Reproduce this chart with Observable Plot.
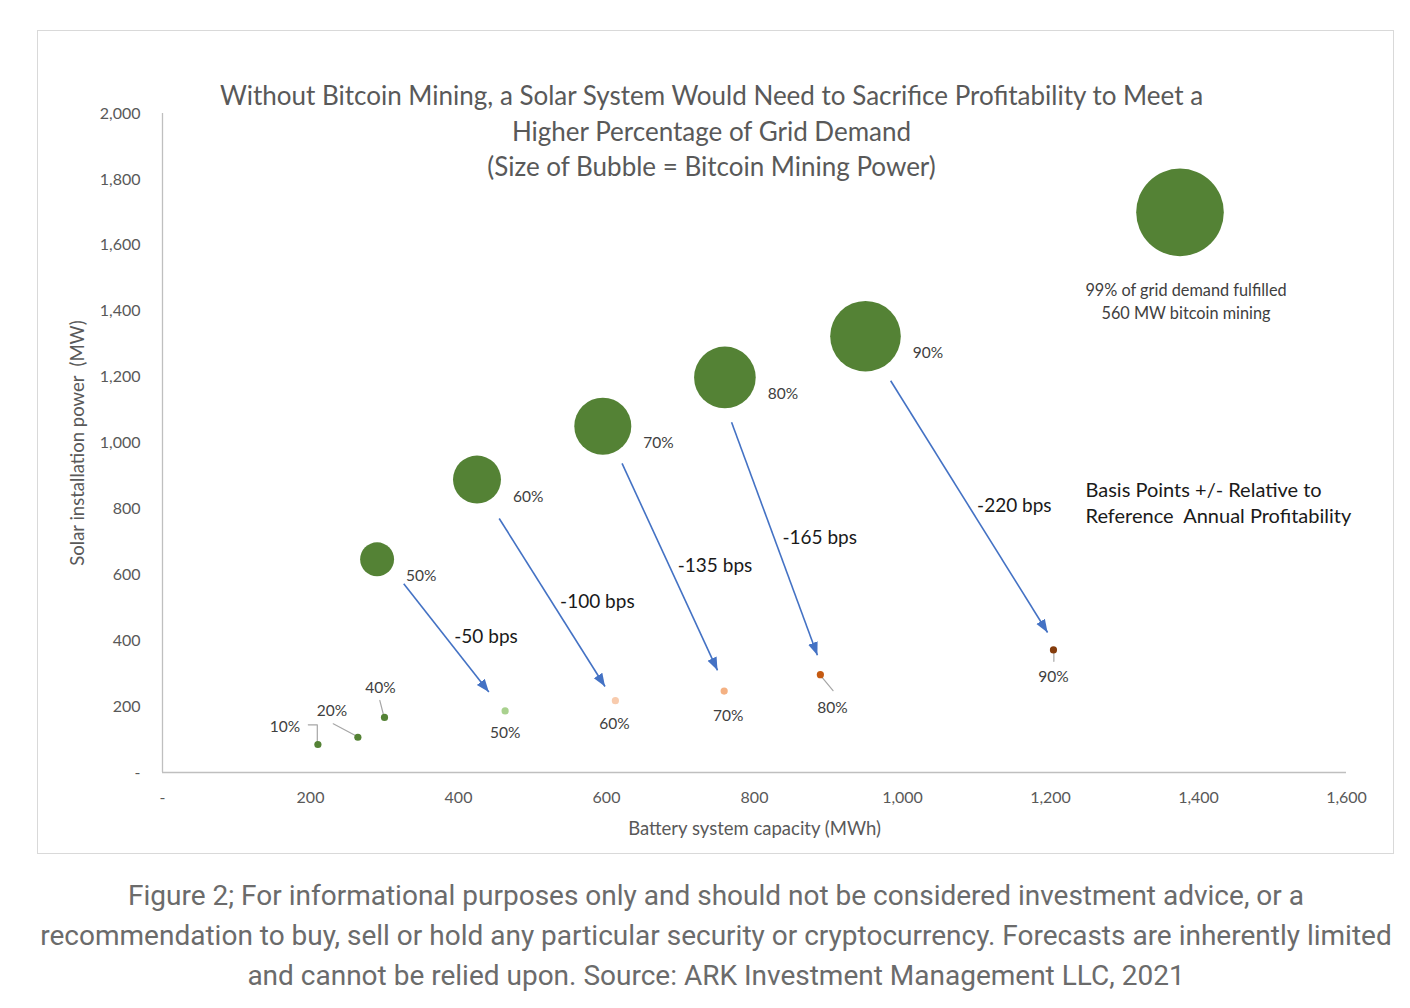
<!DOCTYPE html>
<html><head><meta charset="utf-8">
<script src="https://cdn.jsdelivr.net/npm/d3@7"></script>
<script src="https://cdn.jsdelivr.net/npm/@observablehq/plot@0.6"></script>
<style>
body{margin:0;background:#fff;width:1410px;height:1008px;position:relative;overflow:hidden;font-family:Lato,sans-serif}
#frame{position:absolute;left:38px;top:31px;width:1355px;height:822px;outline:1.5px solid #d9d9d9}
#chart svg{display:block}
#title{position:absolute;left:-4px;top:47px;width:100%;text-align:center;font-family:Lato,sans-serif;font-size:26px;line-height:35.5px;color:#595959;pointer-events:none}
#caption{position:absolute;left:20px;top:876px;width:1392px;text-align:center;font-family:Roboto,sans-serif;font-size:28px;line-height:40px;color:#6b6b6b;white-space:nowrap}
</style></head>
<body>
<div id="frame">
  <div id="chart"></div>
  <div id="title">Without Bitcoin Mining, a Solar System Would Need to Sacrifice Profitability to Meet a<br>Higher Percentage of Grid Demand<br>(Size of Bubble = Bitcoin Mining Power)</div>
</div>
<div id="caption">Figure 2; For informational purposes only and should not be considered investment advice, or a<br>recommendation to buy, sell or hold any particular security or cryptocurrency. Forecasts are inherently limited<br>and cannot be relied upon. Source: ARK Investment Management LLC, 2021</div>
<script>
// ---------- data ----------
// With bitcoin mining: bubbles (size = bitcoin mining power, MW)
const bubbleLabels   = ["50%", "60%", "70%", "80%", "90%", "99%"];
const bubbleBattery  = [290, 425, 595, 760, 950, 1375];     // MWh
const bubbleSolar    = [647, 889, 1051, 1199, 1324, 1700];  // MW
const bubbleMiningMW = [84, 168, 237, 277, 364, 560];

// With bitcoin mining, low grid-demand shares (tiny markers)
const lowLabels  = ["10%", "20%", "40%"];
const lowBattery = [210, 264, 300];
const lowSolar   = [85, 107, 167];

// Without bitcoin mining
const noMiningLabels  = ["50%", "60%", "70%", "80%", "90%"];
const noMiningBattery = [463, 612, 759, 889, 1204];
const noMiningSolar   = [187, 218, 247, 297, 372];

// Arrows: change in profitability (bps) from mining case to no-mining case
const bpsChange        = [-50, -100, -135, -165, -220];
const arrowFromBattery = [326, 455, 621, 769, 984];
const arrowFromSolar   = [573, 771, 938, 1063, 1189];
const arrowToBattery   = [441, 598, 750, 885, 1196];
const arrowToSolar     = [244, 261, 310, 356, 425];

const xTicks = [0, 200, 400, 600, 800, 1000, 1200, 1400, 1600];
const yTicks = [0, 200, 400, 600, 800, 1000, 1200, 1400, 1600, 1800, 2000];

const xLabel = "Battery system capacity (MWh)";
const yLabel = "Solar installation power  (MW)";
const noteText = "Basis Points +/- Relative to\nReference  Annual Profitability";

// ---------- styles ----------
const green = "#548235";
const noMiningColors = ["#A9D18E", "#F8CBAD", "#F4B183", "#C55A11", "#843C0C"];
const W = 1355, H = 822, ML = 124, MR = 47, MT = 82, MB = 81;
const kx = (W - ML - MR) / 1600, ky = (H - MT - MB) / 2000; // px per unit
const rMax = 43.8;
const rpx = v => Math.sqrt(v / 560) * rMax;
const lowLabelOffset = {"10%": [-33, -17], "20%": [-26, -26], "40%": [-4, -29]};
const noMiningLabelOffset = {"50%": [0, 22], "60%": [-1, 23], "70%": [4, 25], "80%": [12, 33], "90%": [0, 27]};
const leaderShapes = {
  "low 10%": [[-9.6, -19.7], [-0.6, -19.7], [-0.6, -2.3]],
  "low 20%": [[-24.6, -13.4], [-2, -1.5]],
  "low 40%": [[-4.7, -17], [-1.3, -3.7]],
  "none 80%": [[1.7, 2.7], [12.7, 16]],
  "none 90%": [[0.4, 2.4], [0.4, 11.4]]
};

// ---------- tables ----------
const bubbles = bubbleLabels.map((label, i) => ({label, x: bubbleBattery[i], y: bubbleSolar[i], mw: bubbleMiningMW[i]}));
const lowPts = lowLabels.map((label, i) => ({label, x: lowBattery[i], y: lowSolar[i], kind: "low"}));
const nonePts = noMiningLabels.map((label, i) => ({label, x: noMiningBattery[i], y: noMiningSolar[i], kind: "none", color: noMiningColors[i]}));
const arrows = bpsChange.map((bps, i) => ({bps, x1: arrowFromBattery[i], y1: arrowFromSolar[i], x2: arrowToBattery[i], y2: arrowToSolar[i]}));

const leaders = [];
for (const p of [...lowPts, ...nonePts]) {
  const shape = leaderShapes[`${p.kind} ${p.label}`];
  if (!shape) continue;
  shape.forEach(([dx, dy], j) => leaders.push({id: `${p.kind} ${p.label}`, j, x: p.x + dx / kx, y: p.y - dy / ky}));
}

const filledHead = (color) => {
  const m = d3.create("svg:marker")
    .attr("viewBox", "-13 -7 14 14")
    .attr("markerUnits", "userSpaceOnUse")
    .attr("markerWidth", 14).attr("markerHeight", 14)
    .attr("refX", 0).attr("refY", 0)
    .attr("orient", "auto")
    .attr("fill", color).attr("stroke", "none");
  m.append("path").attr("d", "M-13,-5L0,0L-13,5Z");
  return m.node();
};

function build(head) {
  const labelFont = {fontFamily: "Lato", fontSize: 15.5, fill: "#404040"};
  return Plot.plot({
    width: W, height: H,
    marginLeft: ML, marginRight: MR, marginTop: MT, marginBottom: MB,
    x: {domain: [0, 1600]},
    y: {domain: [0, 2000]},
    r: {type: "sqrt", domain: [0, 560], range: [0, rMax]},
    style: {fontFamily: "Lato", background: "transparent", overflow: "visible"},
    marks: [
      Plot.ruleY([0], {stroke: "#bfbfbf", strokeWidth: 1.3}),
      Plot.ruleX([0], {stroke: "#bfbfbf", strokeWidth: 1.3}),
      Plot.axisY(yTicks, {tickSize: 0, tickPadding: 22, fontSize: 16, color: "#595959", label: null,
        tickFormat: d => d === 0 ? "-" : d3.format(",")(d)}),
      Plot.axisX(xTicks, {tickSize: 0, tickPadding: 19, fontSize: 16, color: "#595959", label: null,
        tickFormat: d => d === 0 ? "-" : d3.format(",")(d)}),
      Plot.text([xLabel], {text: d => d, frameAnchor: "bottom", dy: 62, fontSize: 18.5, fill: "#595959"}),
      Plot.text([yLabel], {text: d => d, frameAnchor: "left", textAnchor: "middle", rotate: -90, dx: -84, fontSize: 18.5, fill: "#595959"}),
      // arrows
      Plot.link(arrows, {x1: "x1", y1: "y1", x2: "x2", y2: "y2", stroke: "#4472C4", strokeWidth: 1.6, markerEnd: head}),
      Plot.text(arrows, {x: d => (d.x1 + d.x2) / 2, y: d => (d.y1 + d.y2) / 2, text: d => `${d.bps} bps`,
        textAnchor: "start", dx: 8, dy: -1, fontSize: 19, fill: "#1a1a1a"}),
      // leader lines
      Plot.line(leaders, {x: "x", y: "y", z: "id", stroke: "#a6a6a6", strokeWidth: 1.2}),
      // bubbles
      Plot.dot(bubbles, {x: "x", y: "y", r: "mw", fill: green}),
      Plot.text(bubbles.filter(d => d.label !== "99%"), {x: d => d.x + (rpx(d.mw) + 12) / kx, y: "y", text: "label",
        textAnchor: "start", dy: 17, ...labelFont}),
      Plot.text(bubbles.filter(d => d.label === "99%"), {x: "x", y: "y",
        text: d => `${d.label} of grid demand fulfilled\n${d.mw} MW bitcoin mining`,
        dx: 6, dy: 88, lineHeight: 1.4, fontFamily: "Lato", fontSize: 16.3, fill: "#404040"}),
      // small markers
      Plot.dot(lowPts, {x: "x", y: "y", r: 3.6, fill: green}),
      Plot.dot(nonePts, {x: "x", y: "y", r: 3.6, fill: "color"}),
      ...lowPts.map(d => Plot.text([d], {x: "x", y: "y", text: "label",
        dx: lowLabelOffset[d.label][0], dy: lowLabelOffset[d.label][1], ...labelFont})),
      ...nonePts.map(d => Plot.text([d], {x: "x", y: "y", text: "label",
        dx: noMiningLabelOffset[d.label][0], dy: noMiningLabelOffset[d.label][1], ...labelFont})),
      // note
      Plot.text([noteText], {text: d => d, frameAnchor: "right", textAnchor: "start", dx: -261, dy: 59,
        lineHeight: 1.3, fontFamily: "Lato", fontSize: 20, fill: "#1a1a1a"})
    ]
  });
}

let chart;
try { chart = build(filledHead); } catch (e) { chart = build("arrow"); }
document.getElementById("chart").append(chart);
</script>
</body></html>
